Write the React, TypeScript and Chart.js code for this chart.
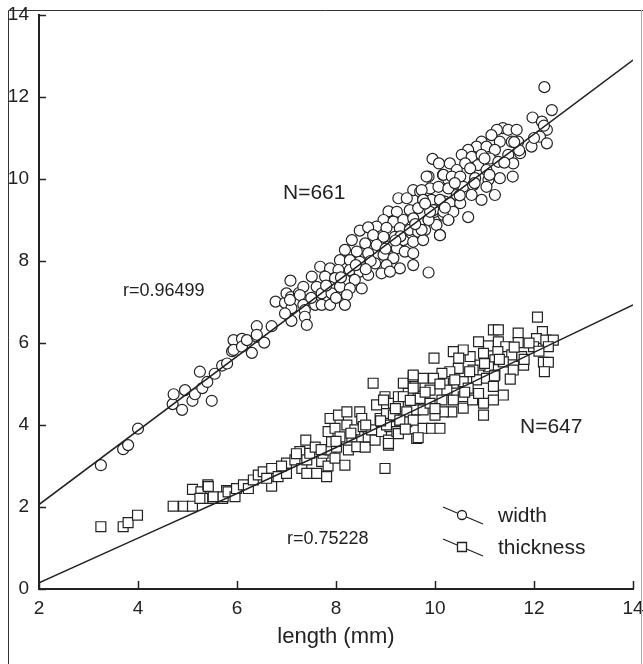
import React, { useEffect, useRef } from "react";
import { Chart, registerables } from "chart.js";

Chart.register(...registerables);

// ---- data ----
const widthPts: number[][] = [
  [3.25, 3.02], [3.7, 3.41], [3.8, 3.51], [4.0, 3.91], [4.7, 4.51], [4.72, 4.75], [4.89, 4.37], [4.95, 4.85],
  [5.1, 4.59], [5.15, 4.75], [5.25, 5.3], [5.3, 4.9], [5.4, 5.05], [5.49, 4.59], [5.55, 5.25], [5.7, 5.45],
  [5.8, 5.5], [5.9, 5.8], [5.93, 6.07], [5.93, 5.83], [6.1, 6.1], [6.1, 5.91], [6.2, 6.07], [6.3, 5.76],
  [6.4, 6.41], [6.4, 6.15], [6.55, 6.01], [6.7, 6.41], [6.78, 7.01], [6.97, 6.98], [7.0, 7.21], [7.0, 6.71],
  [7.08, 7.52], [7.09, 7.12], [7.1, 6.85], [7.1, 6.54], [7.25, 7.22],
  [9.95, 10.49], [10.08, 10.38], [9.87, 10.06], [10.16, 10.1], [10.27, 9.98], [9.56, 9.73], [9.7, 9.69],
  [9.9, 9.77], [10.07, 9.81], [9.26, 9.53], [9.43, 9.53], [9.76, 9.5], [9.93, 9.49], [10.2, 9.45], [9.06, 9.21],
  [9.23, 9.2], [9.49, 9.24], [9.66, 9.29], [10.0, 9.2], [10.17, 9.12], [10.27, 9.0], [8.96, 9.0], [9.16, 8.96],
  [9.36, 9.0], [9.56, 9.04], [9.87, 9.0], [10.03, 8.88], [8.82, 8.84], [9.02, 8.81], [9.29, 8.8], [9.49, 8.76],
  [9.66, 8.71], [9.8, 8.76], [10.1, 8.63], [8.48, 8.74], [8.65, 8.82], [8.75, 8.63], [8.96, 8.59], [9.19, 8.59],
  [9.36, 8.51], [9.56, 8.47], [9.76, 8.51], [8.32, 8.51], [8.59, 8.43], [8.82, 8.39], [9.06, 8.35], [9.23, 8.31],
  [9.39, 8.23], [9.56, 8.19], [8.18, 8.27], [8.42, 8.23], [8.65, 8.19], [8.96, 8.15], [9.16, 8.07], [8.08, 8.02],
  [8.28, 8.02], [8.48, 7.98], [8.79, 7.94], [9.02, 7.9], [9.29, 7.82], [9.56, 7.9], [9.87, 7.72], [7.68, 7.86],
  [7.88, 7.82], [8.05, 7.78], [8.28, 7.78], [8.48, 7.74], [8.65, 7.66], [8.92, 7.7], [9.09, 7.74], [7.51, 7.62],
  [7.78, 7.62], [7.98, 7.58], [8.18, 7.54], [8.38, 7.54], [7.34, 7.37], [7.61, 7.37], [7.88, 7.37], [8.08, 7.37],
  [8.28, 7.33], [8.52, 7.33], [7.27, 7.17], [7.71, 7.21], [7.91, 7.21], [8.22, 7.17], [7.07, 7.05], [7.34, 6.93],
  [7.58, 6.93], [7.71, 6.93], [7.88, 6.93], [8.18, 6.93], [6.97, 6.72], [7.37, 6.8], [7.37, 6.64], [7.41, 6.44],
  [6.4, 6.2],
  [12.21, 12.24], [12.36, 11.68], [11.97, 11.5], [12.16, 11.4], [12.26, 11.2], [12.12, 11.03], [12.26, 10.87],
  [11.95, 10.79], [11.37, 11.24], [11.48, 11.2], [11.65, 11.2], [11.25, 11.2], [11.14, 11.07], [11.55, 10.91],
  [11.68, 10.91], [11.31, 10.91], [10.94, 10.91], [10.84, 10.79], [11.04, 10.79], [11.21, 10.71], [10.67, 10.71],
  [10.54, 10.59], [10.74, 10.54], [10.94, 10.59], [11.11, 10.5], [11.48, 10.59], [11.72, 10.63], [10.3, 10.38],
  [10.61, 10.38], [10.87, 10.34], [11.28, 10.42], [11.58, 10.38], [10.44, 10.22], [10.71, 10.26], [11.04, 10.22],
  [10.17, 10.1], [9.83, 10.06], [10.34, 10.06], [10.51, 10.06], [10.81, 10.02], [11.08, 9.98], [11.31, 10.02],
  [11.57, 10.06], [10.27, 9.77], [10.57, 9.81], [10.77, 9.85], [11.04, 9.81], [9.73, 9.73], [10.44, 9.61],
  [10.74, 9.61], [11.21, 9.61], [10.94, 9.49], [9.76, 9.49], [10.1, 9.49], [10.3, 9.41], [10.51, 9.41],
  [9.97, 9.24], [10.17, 9.2], [10.37, 9.2], [10.67, 9.07], [9.87, 9.0], [10.27, 9.0], [10.1, 8.63], [9.73, 8.76],
  [7.5, 7.1], [7.8, 7.4], [8.1, 7.6], [8.4, 7.9], [8.7, 8.0], [9.0, 8.3], [9.3, 8.6], [9.6, 8.9], [9.9, 9.2],
  [10.2, 9.3], [10.5, 9.6], [10.8, 9.9], [11.1, 10.1], [11.4, 10.4], [11.7, 10.7], [12.0, 11.0], [8.0, 7.1],
  [8.6, 7.8], [9.2, 8.5], [9.8, 9.4], [10.4, 9.9], [11.0, 10.5], [11.6, 10.9], [12.2, 11.3],
];

const thickPts: number[][] = [
  [3.25, 1.52], [3.7, 1.52], [3.8, 1.62], [3.99, 1.8], [4.71, 2.02], [4.92, 2.02], [5.1, 2.02], [5.1, 2.43],
  [5.27, 2.37], [5.41, 2.54], [5.32, 2.21], [5.51, 2.21], [5.71, 2.21], [5.79, 2.4],
  [5.25, 2.21], [5.42, 2.5], [5.52, 2.25], [5.72, 2.25], [5.82, 2.37], [5.96, 2.25], [5.99, 2.45], [6.13, 2.54],
  [6.23, 2.45], [6.33, 2.66], [6.43, 2.78], [6.53, 2.86], [6.7, 2.51], [6.7, 2.94], [6.83, 2.74], [7.0, 2.82],
  [7.0, 3.07], [7.17, 3.15], [7.27, 3.35], [7.31, 2.94], [7.41, 2.82], [7.41, 3.15], [7.39, 3.63], [7.47, 3.31],
  [7.58, 3.46], [7.61, 2.82], [7.71, 3.11], [7.74, 3.31], [7.81, 2.74], [7.84, 3.0], [7.88, 3.39], [7.84, 3.84],
  [7.91, 3.59], [7.98, 3.19], [8.01, 3.46], [7.98, 3.92], [7.88, 4.16], [8.05, 4.24], [8.08, 3.71], [8.18, 3.02],
  [8.22, 4.32], [8.22, 4.0], [8.25, 3.39], [8.32, 3.71], [8.38, 3.88], [8.42, 3.47], [8.48, 4.32], [8.52, 4.16],
  [8.55, 3.96], [8.59, 3.46], [8.65, 3.71], [8.72, 3.88], [8.75, 5.02], [8.79, 3.63], [8.82, 4.49], [8.89, 4.16],
  [8.92, 3.84], [8.99, 2.94], [8.99, 4.69], [9.02, 4.28], [9.06, 3.63], [9.06, 3.51], [9.09, 3.96], [9.16, 4.53],
  [9.23, 3.84], [9.26, 4.69], [9.33, 4.12], [9.36, 5.02], [9.43, 4.08], [9.46, 4.77], [9.56, 5.18], [9.6, 4.37],
  [9.63, 3.67], [9.6, 4.94],
  [12.07, 6.63], [11.18, 6.32], [11.28, 6.32], [11.68, 6.24], [11.68, 6.01], [12.17, 6.28], [12.05, 6.11],
  [12.24, 6.07], [12.39, 6.07], [12.29, 5.91], [11.99, 5.91], [12.19, 5.53], [12.29, 5.53], [12.21, 5.3],
  [10.88, 6.03], [11.08, 5.93], [11.28, 6.03], [11.43, 5.91], [11.27, 5.79], [10.98, 5.75], [10.71, 5.67],
  [10.57, 5.83], [10.37, 5.79], [9.98, 5.63], [11.79, 5.46], [11.75, 5.67], [11.55, 5.71], [11.58, 5.34],
  [11.52, 5.12], [11.38, 5.54], [11.21, 5.59], [11.08, 5.42], [10.91, 5.46], [10.77, 5.34], [10.47, 5.38],
  [10.3, 5.3], [10.14, 5.26], [9.97, 5.14], [10.48, 5.63], [10.84, 5.1], [11.04, 5.14], [11.21, 5.22],
  [11.18, 4.94], [11.38, 4.73], [11.18, 4.61], [10.98, 4.53], [10.57, 5.06], [10.37, 5.02], [10.24, 4.85],
  [10.67, 4.9], [10.57, 4.69], [10.37, 4.61], [10.57, 4.41], [10.34, 4.32], [10.14, 4.61], [10.17, 4.32],
  [10.0, 4.24], [9.9, 4.85], [9.76, 5.14], [9.56, 5.22], [9.56, 4.9], [9.7, 4.65], [9.76, 4.37], [9.9, 4.53],
  [9.36, 4.69], [9.26, 4.45], [9.43, 4.32], [9.56, 4.12], [9.16, 4.24], [8.96, 4.61], [9.02, 4.0], [9.29, 4.12],
  [9.76, 3.92], [9.93, 3.92], [10.1, 3.92], [9.66, 3.69], [9.26, 3.79], [9.06, 3.55], [10.98, 4.24],
  [10.76, 4.61], [10.88, 4.77],
  [8.3, 3.8], [8.6, 4.0], [8.9, 4.1], [9.2, 4.4], [9.5, 4.6], [9.8, 4.8], [10.1, 5.0], [10.4, 5.1], [10.7, 5.3],
  [11.0, 5.5], [11.3, 5.6], [11.6, 5.9], [11.9, 6.0], [8.0, 3.6], [7.7, 3.4], [7.2, 3.3], [6.9, 3.0], [6.6, 2.7],
  [9.4, 3.9], [10.0, 4.4], [10.6, 4.8], [11.2, 5.2], [11.8, 5.6], [12.1, 5.8],
];

const widthFitX = [2, 14];
const widthFitY = [2.06, 12.9];
const thickFitX = [2, 4, 6, 8, 10, 12, 14];
const thickFitY = [0.15, 1.24, 2.33, 3.45, 4.6, 5.77, 6.93];

const xTicks = [2, 4, 6, 8, 10, 12, 14];
const yTicks = [0, 2, 4, 6, 8, 10, 12, 14];

const seriesNames = ["width", "thickness"];
const annotations = [
  { text: "N=661", x: 283, y: 193, size: 21 },
  { text: "r=0.96499", x: 123, y: 291, size: 18 },
  { text: "N=647", x: 520, y: 427, size: 21 },
  { text: "r=0.75228", x: 287, y: 539, size: 18 },
];

const FONT = "'Liberation Sans', Arial, Helvetica, sans-serif";
const INK = "#222";

const decorPlugin = {
  id: "decor",
  afterDraw(chart: any) {
    const ctx = chart.ctx as CanvasRenderingContext2D;
    const xs = chart.scales.x;
    const ys = chart.scales.y;
    const { left, bottom } = chart.chartArea;
    ctx.save();
    // inward ticks
    ctx.strokeStyle = INK;
    ctx.lineWidth = 1.5;
    ctx.beginPath();
    for (const v of xTicks) {
      const p = Math.round(xs.getPixelForValue(v)) + 0.5;
      ctx.moveTo(p, bottom);
      ctx.lineTo(p, bottom - 8);
    }
    for (const v of yTicks) {
      const p = Math.round(ys.getPixelForValue(v)) + 0.5;
      ctx.moveTo(left, p);
      ctx.lineTo(left + 7, p);
    }
    ctx.stroke();
    // outer frame
    ctx.lineWidth = 1;
    ctx.strokeStyle = "#333";
    ctx.beginPath();
    ctx.moveTo(8.5, 664);
    ctx.lineTo(8.5, 10.5);
    ctx.lineTo(643, 10.5);
    ctx.stroke();
    ctx.strokeStyle = "#aaa";
    ctx.beginPath();
    ctx.moveTo(641.5, 10);
    ctx.lineTo(641.5, 664);
    ctx.stroke();
    // annotations
    ctx.fillStyle = INK;
    ctx.textBaseline = "middle";
    ctx.textAlign = "left";
    for (const a of annotations) {
      ctx.font = `${a.size}px ${FONT}`;
      ctx.fillText(a.text, a.x, a.y);
    }
    // legend
    const rows = [
      { y: 515, style: "circle" },
      { y: 547, style: "rect" },
    ];
    rows.forEach((r, i) => {
      ctx.strokeStyle = INK;
      ctx.lineWidth = 1.3;
      ctx.beginPath();
      ctx.moveTo(443, r.y - 8);
      ctx.lineTo(483, r.y + 9);
      ctx.stroke();
      ctx.fillStyle = "#fff";
      ctx.beginPath();
      if (r.style === "circle") {
        ctx.arc(462, r.y, 4.5, 0, Math.PI * 2);
      } else {
        ctx.rect(457.5, r.y - 4.5, 9, 9);
      }
      ctx.fill();
      ctx.stroke();
      ctx.fillStyle = INK;
      ctx.font = `21px ${FONT}`;
      ctx.fillText(seriesNames[i], 498, r.y + 1);
    });
    ctx.restore();
  },
};

export default function App() {
  const ref = useRef<HTMLCanvasElement>(null);
  useEffect(() => {
    document.body.style.margin = "0";
    const canvas = ref.current!;
    const chart = new Chart(canvas, {
      type: "scatter",
      data: {
        datasets: [
          {
            label: "width fit",
            data: widthFitX.map((x, i) => ({ x, y: widthFitY[i] })),
            showLine: true,
            borderColor: INK,
            borderWidth: 1.5,
            pointRadius: 0,
            order: 0,
          },
          {
            label: "thickness fit",
            data: thickFitX.map((x, i) => ({ x, y: thickFitY[i] })),
            showLine: true,
            borderColor: INK,
            borderWidth: 1.5,
            pointRadius: 0,
            order: 0,
          },
          {
            label: seriesNames[0],
            data: widthPts.map(([x, y]) => ({ x, y })),
            pointStyle: "circle",
            pointRadius: 5.5,
            borderWidth: 1.2,
            borderColor: INK,
            backgroundColor: "#fff",
            order: 1,
          },
          {
            label: seriesNames[1],
            data: thickPts.map(([x, y]) => ({ x, y })),
            pointStyle: "rect",
            pointRadius: 7,
            borderWidth: 1.2,
            borderColor: INK,
            backgroundColor: "#fff",
            order: 1,
          },
        ],
      },
      options: {
        animation: false,
        responsive: false,
        layout: { padding: { top: 15, right: 10, left: 0, bottom: 0 } },
        plugins: { legend: { display: false }, tooltip: { enabled: false } },
        scales: {
          x: {
            type: "linear",
            min: 2,
            max: 14,
            afterFit: (s: any) => {
              s.height = 75;
              s.paddingLeft = 0;
              s.paddingRight = 0;
            },
            afterBuildTicks: (s: any) => {
              s.ticks = xTicks.map((v) => ({ value: v }));
            },
            grid: { display: true, drawOnChartArea: false, drawTicks: false, color: INK },
            border: { display: true, color: INK, width: 2 },
            ticks: { color: INK, font: { size: 19, family: FONT }, padding: 8, maxRotation: 0 },
            title: {
              display: true,
              text: "length (mm)",
              color: INK,
              font: { size: 22, family: FONT },
              padding: { top: 0, bottom: 14 },
            },
          },
          y: {
            type: "linear",
            min: 0,
            max: 14,
            afterFit: (s: any) => {
              s.width = 39;
              s.paddingTop = 0;
              s.paddingBottom = 0;
            },
            afterBuildTicks: (s: any) => {
              s.ticks = yTicks.map((v) => ({ value: v }));
            },
            grid: { display: true, drawOnChartArea: false, drawTicks: false, color: INK },
            border: { display: true, color: INK, width: 2 },
            ticks: { color: INK, font: { size: 19, family: FONT }, padding: 10 },
          },
        },
      },
      plugins: [decorPlugin],
    } as any);
    return () => chart.destroy();
  }, []);
  return <canvas ref={ref} width={643} height={664} style={{ display: "block" }} />;
}
